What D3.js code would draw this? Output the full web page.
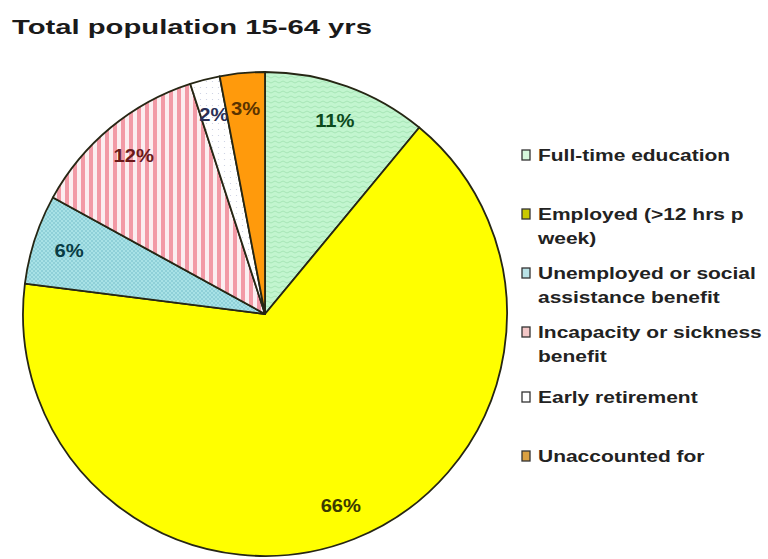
<!DOCTYPE html>
<html>
<head>
<meta charset="utf-8">
<script src="https://cdn.jsdelivr.net/npm/d3@7"></script>
<style>
  html, body { margin: 0; padding: 0; background: #fff; }
  svg { display: block; font-family: Arial, "Liberation Sans", sans-serif; }
</style>
</head>
<body>
<svg id="chart" width="768" height="559"></svg>
<script>
// Population aged 15-64 by main activity status (percent)
const categories = [
  "Full-time education",
  "Employed (>12 hrs p week)",
  "Unemployed or social assistance benefit",
  "Incapacity or sickness benefit",
  "Early retirement",
  "Unaccounted for"
];
const values = [11, 66, 6, 12, 2, 3];
const legendLines = [
  ["Full-time education"],
  ["Employed (>12 hrs p", "week)"],
  ["Unemployed or social", "assistance benefit"],
  ["Incapacity or sickness", "benefit"],
  ["Early retirement"],
  ["Unaccounted for"]
];
const title = "Total population 15-64 yrs";

const labelColors = ["#0c4a1c", "#3a3a00", "#083c44", "#6a1a1a", "#2a2f55", "#5a3300"];
const boxColors   = ["#d6f7dc", "#c8c800", "#b9e2e6", "#f3c7c7", "#ffffff", "#d9a042"];

const svg = d3.select("#chart");
const defs = svg.append("defs");

// fill patterns for the slices
const pGreen = defs.append("pattern").attr("id", "pat0").attr("patternUnits", "userSpaceOnUse")
  .attr("width", 8).attr("height", 5);
pGreen.append("rect").attr("width", 8).attr("height", 5).attr("fill", "#c2f5cf");
pGreen.append("path").attr("d", "M0,3 Q2,1 4,3 T8,3").attr("fill", "none")
  .attr("stroke", "#a6e6b6").attr("stroke-width", 1);

const pBlue = defs.append("pattern").attr("id", "pat2").attr("patternUnits", "userSpaceOnUse")
  .attr("width", 4).attr("height", 4);
pBlue.append("rect").attr("width", 4).attr("height", 4).attr("fill", "#a8e2e6");
pBlue.append("rect").attr("width", 2).attr("height", 2).attr("fill", "#8fd0d8");
pBlue.append("rect").attr("x", 2).attr("y", 2).attr("width", 2).attr("height", 2).attr("fill", "#8fd0d8");

const pPink = defs.append("pattern").attr("id", "pat3").attr("patternUnits", "userSpaceOnUse")
  .attr("width", 8).attr("height", 8);
pPink.append("rect").attr("width", 8).attr("height", 8).attr("fill", "#fbeef0");
pPink.append("rect").attr("x", 0).attr("width", 4).attr("height", 8).attr("fill", "#f29aa6");

const pWhite = defs.append("pattern").attr("id", "pat4").attr("patternUnits", "userSpaceOnUse")
  .attr("width", 6).attr("height", 6);
pWhite.append("rect").attr("width", 6).attr("height", 6).attr("fill", "#ffffff");
pWhite.append("circle").attr("cx", 1.5).attr("cy", 1.5).attr("r", 0.6).attr("fill", "#c8cde0");

const fills = ["url(#pat0)", "#ffff00", "url(#pat2)", "url(#pat3)", "url(#pat4)", "#ff9a0c"];

// title
svg.append("text")
  .attr("x", 12).attr("y", 34)
  .attr("font-size", 21).attr("font-weight", "bold").attr("fill", "#1a1a1a")
  .attr("textLength", 360).attr("lengthAdjust", "spacingAndGlyphs")
  .text(title);

// pie
const cx = 265, cy = 314, r = 242;
const pie = d3.pie().sort(null).value(d => d)(values);
const arc = d3.arc().innerRadius(0).outerRadius(r);
const labelArc = d3.arc().innerRadius(206).outerRadius(206);

const g = svg.append("g").attr("transform", `translate(${cx},${cy})`);
g.selectAll("path.slice").data(pie).join("path")
  .attr("class", "slice")
  .attr("d", arc)
  .attr("fill", (d, i) => fills[i])
  .attr("stroke", "#262614").attr("stroke-width", 1.8)
  .attr("stroke-linejoin", "round");

g.selectAll("text.pct").data(pie).join("text")
  .attr("class", "pct")
  .attr("transform", d => `translate(${labelArc.centroid(d)})`)
  .attr("text-anchor", "middle").attr("dy", "0.36em")
  .attr("font-size", 18).attr("font-weight", "bold")
  .attr("fill", (d, i) => labelColors[i])
  .text(d => d.data + "%")
  .each(function () {
    const w = this.getComputedTextLength();
    d3.select(this).attr("textLength", w * 1.12).attr("lengthAdjust", "spacingAndGlyphs");
  });

// legend
const legendX = 522;
const rowY = [155, 214, 273, 332, 397, 456];
const lineGap = 24;
const lg = svg.append("g");
categories.forEach((c, i) => {
  const row = lg.append("g");
  row.append("rect")
    .attr("x", legendX).attr("y", rowY[i] - 5).attr("width", 8).attr("height", 10)
    .attr("fill", boxColors[i]).attr("stroke", "#333").attr("stroke-width", 1.3);
  legendLines[i].forEach((line, j) => {
    const t = row.append("text")
      .attr("x", legendX + 16).attr("y", rowY[i] + j * lineGap)
      .attr("dy", "0.35em")
      .attr("font-size", 16).attr("font-weight", "bold").attr("fill", "#222")
      .text(line);
    const w = t.node().getComputedTextLength();
    t.attr("textLength", w * 1.31).attr("lengthAdjust", "spacingAndGlyphs");
  });
});
</script>
</body>
</html>
